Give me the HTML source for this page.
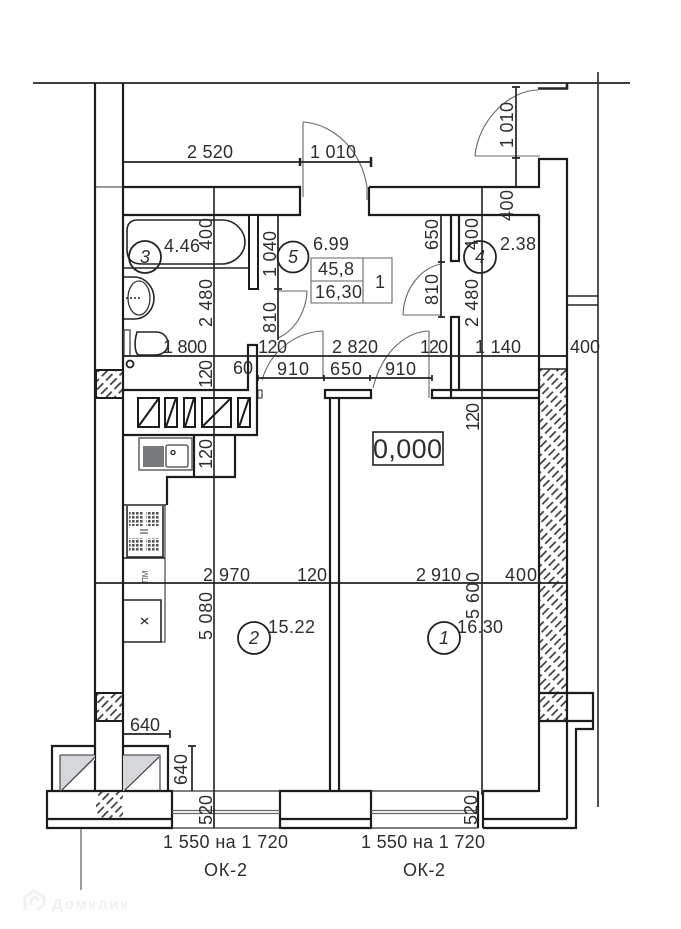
<!DOCTYPE html>
<html>
<head>
<meta charset="utf-8">
<style>
html,body{margin:0;padding:0;background:#fff;}
svg{display:block;}
text{font-family:"Liberation Sans",sans-serif;font-size:18px;fill:#2e2e2e;}
.w{stroke:#1c1c1c;stroke-width:2.2;fill:none;}
.m{stroke:#252525;stroke-width:1.6;fill:none;}
.t{stroke:#333;stroke-width:1.1;fill:none;}
.g{stroke:#666;stroke-width:1.1;fill:none;}
.d{stroke:#222;stroke-width:1.7;fill:none;}
.c{stroke:#222;stroke-width:1.8;fill:none;}
.i{font-style:italic;}
</style>
</head>
<body>
<svg xmlns="http://www.w3.org/2000/svg" width="681" height="929" viewBox="0 0 681 929">
<defs>
<pattern id="h" width="13" height="6" patternUnits="userSpaceOnUse" patternTransform="rotate(-45)">
<line x1="1" y1="2" x2="10" y2="2" stroke="#3a3a3a" stroke-width="1.700"/>
</pattern>
<pattern id="b" width="4" height="4" patternUnits="userSpaceOnUse">
<rect width="4" height="4" fill="#fff"/>
<rect width="2.600" height="2.600" fill="#555"/>
</pattern>
</defs>
<rect width="681" height="929" fill="#fff"/>

<!-- long lines -->
<path class="d" d="M33 83H630"/>
<path class="m" d="M598 72V807"/>
<path class="t" d="M95 187H123"/>

<!-- outer left wall -->
<path class="w" d="M95 83V791"/>
<path class="w" d="M123 83V791"/>

<!-- hatch blocks -->
<rect x="96" y="370" width="27" height="28" fill="url(#h)" stroke="#1c1c1c" stroke-width="2"/>
<rect x="96" y="693" width="27" height="28" fill="url(#h)" stroke="#1c1c1c" stroke-width="2"/>
<rect x="96" y="791" width="27" height="28" fill="url(#h)"/>
<rect x="539" y="369" width="28" height="352" fill="url(#h)"/>
<path class="m" d="M539 369H567"/>

<!-- top walls -->
<path class="w" d="M123 187H300V215H123"/>
<path class="w" d="M369 187V215H539"/>
<path class="w" d="M369 187H539V159H567V819"/>
<path class="w" d="M539 215V791H483"/>
<path class="m" d="M538 88.500H567V83" style="stroke-width:2.600"/>
<path class="m" d="M567 296H598M567 305H598"/>
<path class="m" d="M539 356H567"/>

<!-- right lower -->
<path class="w" d="M539 693H593V729H576V828H483"/>
<path class="w" d="M539 721H593"/>
<path class="w" d="M483 819H567"/>
<path class="w" d="M483 791V828"/>
<path class="w" d="M478 791V828"/>

<!-- partitions -->
<rect x="249" y="215" width="9" height="74" fill="#fff" stroke="#1c1c1c" stroke-width="2"/>
<path class="w" d="M451 215V261H459V215"/>
<path class="w" d="M451 397V317H459V390"/>
<path class="w" d="M123 390H248V345H257V435H123"/>
<rect x="258" y="390" width="4" height="8" fill="#fff" stroke="#222" stroke-width="1"/>
<path class="m" d="M123 268H249"/>

<!-- centre wall with cap -->
<path class="w" d="M330 398V791M339 398V791"/>
<rect x="325" y="390" width="46" height="8" fill="#fff" stroke="#1c1c1c" stroke-width="2.200"/>
<path class="w" d="M539 390H432V398H539"/>

<!-- cabinets -->
<g class="w" style="stroke-width:2">
<rect x="138" y="398" width="21" height="29"/>
<path d="M138 427L159 398"/>
<rect x="165" y="398" width="12" height="29"/>
<path d="M166 427L176 398"/>
<rect x="184" y="398" width="11" height="29"/>
<path d="M185 427L194 398"/>
<rect x="202" y="398" width="29" height="29"/>
<path d="M202 427L231 398"/>
<rect x="238" y="398" width="12" height="29"/>
<path d="M239 427L249 398"/>
</g>

<!-- kitchen -->
<path class="w" d="M194 435V477M235 435V477H167V505"/>
<rect x="139" y="438" width="53" height="32" fill="none" stroke="#555" stroke-width="1.400"/>
<rect x="143" y="446" width="21" height="21" fill="#77797c"/>
<rect x="166" y="445" width="22" height="22" rx="2" fill="none" stroke="#444" stroke-width="1.300"/>
<circle cx="173" cy="452.500" r="2" fill="none" stroke="#222" stroke-width="1.300"/>
<path class="m" d="M124 505H166M127 506V557H163V506M124 558H165"/>
<rect x="129" y="512" width="14" height="14" fill="url(#b)"/>
<rect x="146" y="512" width="14" height="14" fill="url(#b)"/>
<rect x="129" y="538" width="14" height="14" fill="url(#b)"/>
<rect x="146" y="538" width="14" height="14" fill="url(#b)"/>
<path class="t" d="M140 530H148M140 533H148"/>
<path class="t" d="M165 505V642H161"/>
<text transform="translate(148 583) rotate(-90)" style="font-size:8px;fill:#555">ПМ</text>
<path class="m" d="M124 600H161V642H124"/>
<path class="t" d="M141 618L148 624M148 618L141 624" style="stroke-width:1.400"/>

<!-- bathroom fixtures -->
<path class="m" d="M127 245V231Q127 220 138 220H222C236 220 245 232 245 242C245 254 234 264 222 264H142Q127 264 127 250Z"/>
<path class="m" d="M124 277H134C146 277 154 288 154 298C154 309 146 319 134 319H124"/>
<ellipse cx="139" cy="298" rx="11" ry="17" fill="none" stroke="#333" stroke-width="1.300"/>
<path class="m" d="M126 298H141" stroke-dasharray="2 2"/>
<rect x="124" y="330" width="6" height="26" fill="none" stroke="#444" stroke-width="1.300"/>
<path class="m" d="M137 332H156C164 332 168 338 168 344C168 351 162 355 155 355H139C136 355 133 345 137 332Z"/>
<circle cx="130" cy="364" r="3.500" fill="none" stroke="#222" stroke-width="1.800"/>

<!-- bottom wall & windows -->
<path class="w" d="M47 791H172V828H47Z"/>
<path class="w" d="M47 819H172"/>
<path class="w" d="M280 791H371V828H280Z"/>
<path class="w" d="M280 819H371"/>
<path class="t" d="M172 791H280M371 791H478M172 828H280M371 828H478" style="stroke-width:1.300"/>
<path class="g" d="M172 810.500H280M172 813.500H280M371 810.500H478M371 813.500H478" style="stroke-width:1.300"/>
<path class="g" d="M81 829V890" style="stroke-width:1.300"/>

<!-- balcony-style unit -->
<path class="w" d="M52 791V746H95M123 746H168V791"/>
<path fill="#d5d7db" d="M60 755H95V760L61 791H60Z"/>
<path fill="#d5d7db" d="M123 755H159V758L124 791H123Z"/>
<path class="t" d="M60 755H95M60 755V791M123 755H160V791M61 791L95 757M124 791L159 757"/>

<!-- door arcs -->
<g class="g">
<path d="M303 122V197"/>
<path d="M303 122C335 124 362 152 367 187V200"/>
<path d="M475 156H540"/>
<path d="M475 156C478 120 510 90 538 90"/>
<path d="M403 315H441"/>
<path d="M403 315C404 288 421 268 441 264"/>
<path d="M278 291H307"/>
<path d="M307 291C306 313 294 331 278 338"/>
<path d="M323 331V378"/>
<path d="M323 331C295 332 270 352 262 380"/>
<path d="M429 331V398"/>
<path d="M429 331C405 332 382 352 373 388"/>
<path d="M311 258H392V303H311ZM311 281H363M363 258V303"/>
</g>

<!-- dimension lines -->
<g class="d">
<path d="M123 162H371"/>
<path d="M300 158V166" style="stroke-width:2.500"/>
<path d="M371 157V167" style="stroke-width:2.500"/>
<path d="M516 87V187"/>
<path d="M512 87H520M512 158H520"/>
<path d="M214 187V791" style="stroke-width:1.600"/>
<path d="M482 187V795" style="stroke-width:1.600"/>
<path d="M278 215V340"/>
<path d="M274 289H282"/>
<path d="M441 215V317"/>
<path d="M438 262H445M438 317H445"/>
<path d="M123 356H567"/>
<path d="M258 378H432"/>
<path d="M258 375V381M324 375V381M370 375V381M432 375V381"/>
<path d="M95 583H567"/>
<path d="M123 734H170M170 730V738"/>
<path d="M192 746V791M188 746H196"/>
<path d="M214 791V828"/>
</g>

<!-- circles -->
<circle class="c" cx="145" cy="257" r="16"/>
<circle class="c" cx="293" cy="257" r="15.500"/>
<circle class="c" cx="480" cy="257" r="16"/>
<circle class="c" cx="254" cy="638" r="16"/>
<circle class="c" cx="444" cy="638" r="16"/>
<text class="i" x="145" y="263" text-anchor="middle">3</text>
<text class="i" x="293" y="263" text-anchor="middle">5</text>
<text class="i" x="480" y="263" text-anchor="middle">4</text>
<text class="i" x="254" y="644" text-anchor="middle">2</text>
<text class="i" x="444" y="644" text-anchor="middle">1</text>

<!-- horizontal text -->
<g>
<text x="187" y="158" textLength="46">2 520</text>
<text x="310" y="158" textLength="46">1 010</text>
<text x="164" y="252" textLength="36">4.46</text>
<text x="313" y="250" textLength="36">6.99</text>
<text x="500" y="250" textLength="36">2.38</text>
<text x="318" y="275" textLength="36">45,8</text>
<text x="315" y="298" textLength="47">16,30</text>
<text x="375" y="288">1</text>
<text x="163" y="353" textLength="44">1 800</text>
<text x="258" y="353" textLength="29">120</text>
<text x="332" y="353" textLength="46">2 820</text>
<text x="420" y="353" textLength="28">120</text>
<text x="475" y="353" textLength="46">1 140</text>
<text x="570" y="353" textLength="30">400</text>
<text x="233" y="374" textLength="20">60</text>
<text x="277" y="375" textLength="32">910</text>
<text x="330" y="375" textLength="32">650</text>
<text x="385" y="375" textLength="31">910</text>
<text x="203" y="581" textLength="47">2 970</text>
<text x="297" y="581" textLength="30">120</text>
<text x="416" y="581" textLength="45">2 910</text>
<text x="505" y="581" textLength="32">400</text>
<text x="457" y="633" textLength="46">16.30</text>
<text x="268" y="633" textLength="47">15.22</text>
<text x="130" y="731" textLength="30">640</text>
<text x="163" y="848" textLength="125">1 550 на 1 720</text>
<text x="361" y="848" textLength="124">1 550 на 1 720</text>
<text x="204" y="876" textLength="43">ОК-2</text>
<text x="403" y="876" textLength="42">ОК-2</text>
</g>

<!-- rotated text -->
<g>
<text transform="translate(513 148) rotate(-90)" textLength="46">1 010</text>
<text transform="translate(513 221) rotate(-90)" textLength="31">400</text>
<text transform="translate(212 250) rotate(-90)" textLength="32">400</text>
<text transform="translate(276 277) rotate(-90)" textLength="46">1 040</text>
<text transform="translate(276 333) rotate(-90)" textLength="31">810</text>
<text transform="translate(212 327) rotate(-90)" textLength="48">2 480</text>
<text transform="translate(212 388) rotate(-90)" textLength="28">120</text>
<text transform="translate(212 469) rotate(-90)" textLength="30">120</text>
<text transform="translate(438 250) rotate(-90)" textLength="31">650</text>
<text transform="translate(438 305) rotate(-90)" textLength="31">810</text>
<text transform="translate(478 250) rotate(-90)" textLength="32">400</text>
<text transform="translate(478 327) rotate(-90)" textLength="48">2 480</text>
<text transform="translate(479 431) rotate(-90)" textLength="28">120</text>
<text transform="translate(479 619) rotate(-90)" textLength="47">5 600</text>
<text transform="translate(212 640) rotate(-90)" textLength="48">5 080</text>
<text transform="translate(187 785) rotate(-90)" textLength="31">640</text>
<text transform="translate(212 825) rotate(-90)" textLength="30">520</text>
<text transform="translate(477 825) rotate(-90)" textLength="30">520</text>
</g>

<!-- level mark -->
<rect x="373" y="432" width="70" height="33" fill="#fff" stroke="#222" stroke-width="1.600"/>
<text x="373" y="458" textLength="69" style="font-size:27px">0,000</text>

<!-- watermark -->
<path d="M25 910V897L34 891L44 897V904L37 910M31 905V900L35 897L39 900" fill="none" stroke="#f1f1f1" stroke-width="3"/>
<text x="52" y="909" textLength="76" style="font-size:15px;font-weight:bold;fill:#f0f0f0">Домклик</text>
</svg>
</body>
</html>
